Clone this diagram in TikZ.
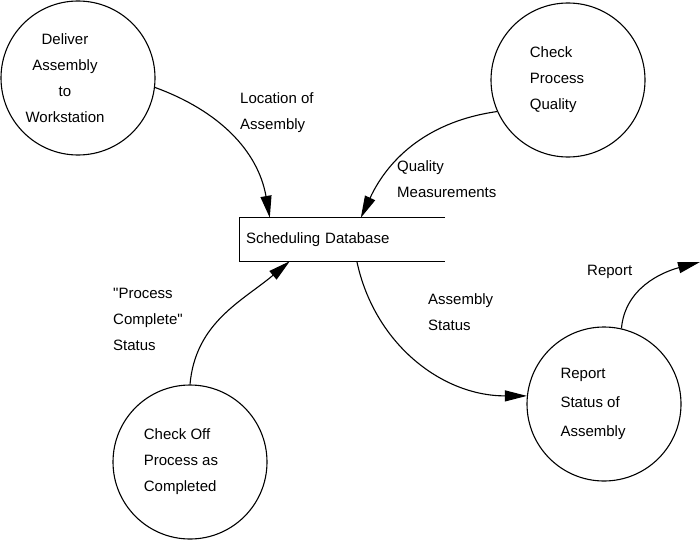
\documentclass[tikz,border=0pt]{standalone}
\usepackage{fontspec}
\setmainfont{Liberation Sans}
\usetikzlibrary{arrows.meta,positioning,calc}

\begin{document}
\begin{tikzpicture}[x=1pt,y=1pt,>={Triangle[length=22pt,width=11pt]},
    font=\fontsize{15}{26}\selectfont,
    proc/.style={draw,circle,line width=1.1pt,minimum size=154pt,inner sep=0pt},
    flow/.style={->,line width=1.1pt},
    lbl/.style={align=left,anchor=west,inner sep=0pt}]
    \useasboundingbox (0,0) rectangle (700,-543);

    % Processes
    \node[proc,label={[align=center,xshift=-13pt]center:{Deliver\\Assembly\\to\\Workstation}}] (deliver) at (78,-78) {};
    \node[proc,label={[align=left,xshift=-11pt]center:{Check\\Process\\Quality}}] (quality) at (568,-80) {};
    \node[proc,label={[align=left,xshift=-9pt]center:{Check Off\\Process as\\Completed}}] (checkoff) at (190,-462) {};
    \node[proc,label={[align=left,xshift=-11pt,font=\fontsize{15}{29}\selectfont]center:{Report\\Status of\\Assembly}}] (report) at (604,-404) {};

    % Data store (open on the right)
    \node[align=left,text width=193pt,inner sep=6pt,minimum height=43pt] (db) at (342.5,-239.5) {Scheduling Database};
    \draw[line width=1.3pt] (db.north east) -- (db.north west) -- (db.south west) -- (db.south east);

    % Data flows
    \draw[flow] (deliver.-7) to[out=-20,in=100] ([xshift=30pt]db.north west);
    \draw[flow] (quality.-156) to[out=188,in=65] ([xshift=121pt]db.north west);
    \draw[flow] (checkoff.north) to[out=85,in=220] ([xshift=50pt]db.south west);
    \draw[flow] ([xshift=117pt]db.south west) to[out=-78,in=180] (report.174);
    \coordinate (reportout) at (700,-262);
    \draw[flow] (report.77) to[out=85,in=195] (reportout);

    % Flow labels
    \node[lbl] (locationlbl) at (240,-112.5) {Location of\\Assembly};
    \node[lbl] (qualitylbl) at (397,-179.5) {Quality\\Measurements};
    \node[lbl] (completelbl) at (113,-319) {\textquotedbl Process\\Complete\textquotedbl\\Status};
    \node[lbl] (statuslbl) at (428,-312.5) {Assembly\\Status};
    \node[lbl] (reportlbl) at (587,-272) {Report};
\end{tikzpicture}
\end{document}
